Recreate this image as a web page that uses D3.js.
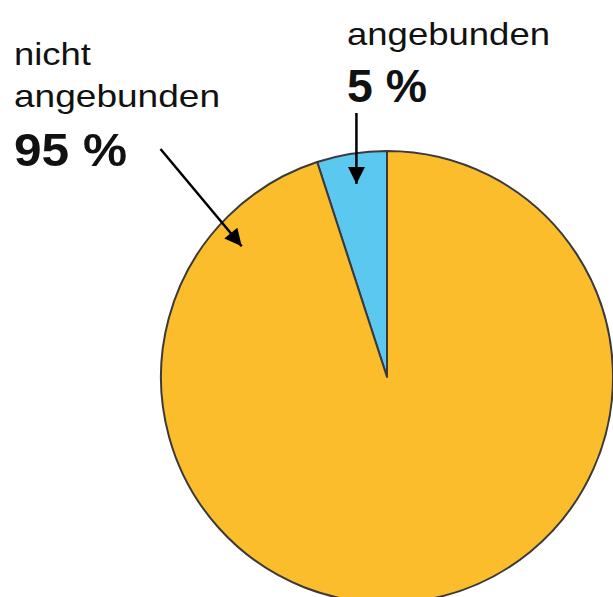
<!DOCTYPE html>
<html>
<head>
<meta charset="utf-8">
<script src="https://cdn.jsdelivr.net/npm/d3@7"></script>
<style>
  html, body { margin: 0; padding: 0; background: #fff; overflow: hidden; }
  svg { display: block; }
  text { font-family: "Liberation Sans", Arial, sans-serif; fill: #111; }
</style>
</head>
<body>
<svg id="chart" width="613" height="597"></svg>
<script>
// Share of bound vs. unbound (percent)
const categories = ["angebunden", "nicht angebunden"];
const values = [5, 95];
const colors = ["#5BC8F0", "#FBBD2C"];

const width = 613, height = 597;
const cx = 387, cy = 377, R = 226;

const svg = d3.select("#chart");

// The small slice ends at 12 o'clock; the large one wraps around clockwise from there.
const total = d3.sum(values);
const start = -2 * Math.PI * values[0] / total;
const pie = d3.pie().sort(null).value(d => d)
  .startAngle(start).endAngle(start + 2 * Math.PI);
const arcs = pie(values);
const arc = d3.arc().innerRadius(0).outerRadius(R);

const g = svg.append("g").attr("transform", `translate(${cx},${cy})`);
g.selectAll("path")
  .data(arcs)
  .join("path")
  .attr("d", arc)
  .attr("fill", (d, i) => colors[i])
  .attr("stroke", "#3a3a3a")
  .attr("stroke-width", 2)
  .attr("stroke-linejoin", "round");

// Arrow marker
svg.append("defs").append("marker")
  .attr("id", "head")
  .attr("viewBox", "0 0 10 10")
  .attr("refX", 10).attr("refY", 5)
  .attr("markerUnits", "userSpaceOnUse")
  .attr("markerWidth", 19).attr("markerHeight", 17)
  .attr("orient", "auto")
  .append("path")
  .attr("d", "M0,0 L10,5 L0,10 Z")
  .attr("fill", "#000");

const polar = (a, r) => [cx + r * Math.sin(a), cy - r * Math.cos(a)];
const tipR = 0.865 * R;

// Arrow into the small slice, from above, at its middle angle
const midSmall = (arcs[0].startAngle + arcs[0].endAngle) / 2;
const tipSmall = polar(midSmall, tipR);
// Arrow into the large slice, upper left
const tipLarge = polar(-48 * Math.PI / 180, tipR);

const arrows = [
  { from: [tipSmall[0], 113], to: tipSmall },
  { from: [160.5, 149], to: tipLarge }
];
svg.selectAll("line.arrow")
  .data(arrows)
  .join("line")
  .attr("class", "arrow")
  .attr("x1", d => d.from[0]).attr("y1", d => d.from[1])
  .attr("x2", d => d.to[0]).attr("y2", d => d.to[1])
  .attr("stroke", "#000")
  .attr("stroke-width", 2.5)
  .attr("marker-end", "url(#head)");

// Labels
const pct = v => `${v} %`;
const labels = [
  { text: "nicht", x: 14, y: 65, size: 32, weight: "normal", len: 77 },
  { text: "angebunden", x: 14, y: 107, size: 32, weight: "normal", len: 206 },
  { text: pct(values[1]), x: 14, y: 166, size: 47, weight: "bold", len: 113 },
  { text: categories[0], x: 347, y: 45, size: 32, weight: "normal", len: 203 },
  { text: pct(values[0]), x: 347, y: 102, size: 47, weight: "bold", len: 80 }
];
svg.selectAll("text.lbl")
  .data(labels)
  .join("text")
  .attr("class", "lbl")
  .attr("x", d => d.x).attr("y", d => d.y)
  .attr("font-size", d => d.size)
  .attr("font-weight", d => d.weight)
  .attr("textLength", d => d.len)
  .attr("lengthAdjust", "spacingAndGlyphs")
  .text(d => d.text);
</script>
</body>
</html>
